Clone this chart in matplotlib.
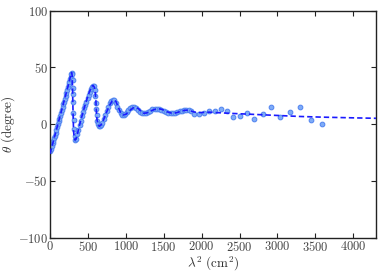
import matplotlib
matplotlib.use("Agg")
import matplotlib.pyplot as plt
from matplotlib.ticker import FuncFormatter

plt.rcParams['mathtext.fontset'] = 'cm'
plt.rcParams['font.family'] = 'serif'

# model curve (lambda^2 in cm^2, angle in degrees)
line_l2 = [0, 40, 80, 120, 160, 200, 240, 262, 275, 285, 292, 297, 302, 307, 312,
           320, 332, 345, 360, 400, 450, 500, 535, 558, 571, 585, 597, 605, 612, 620,
           635, 650, 665, 690, 730, 780, 820, 845, 870, 900, 930, 965, 1000, 1050,
           1100, 1130, 1170, 1210, 1240, 1280, 1340, 1400, 1430, 1480, 1540, 1600,
           1630, 1680, 1740, 1800, 1850, 1900, 1950, 2000, 2100, 2200, 2400, 2700,
           3000, 3300, 3600, 4000, 4300]
line_theta = [-26, -16, -6, 4, 14, 24, 34, 40, 44, 45.5, 43, 32, 16, 2, -7,
              -12, -14, -13, -9, 2, 14, 25, 31, 33.8, 34, 32.5, 28, 21, 11, 4,
              -0.5, -1.8, -1.2, 1, 8, 16, 20.5, 21.3, 20, 15, 10.5, 8.2, 8.6, 12,
              14.5, 15, 13.5, 10.5, 9.6, 10, 12, 13.5, 13.7, 13, 11, 9.8,
              9.6, 10.3, 11.8, 12.4, 11.8, 10.8, 10.2, 10.3, 10.6, 10.2, 9.5, 8.6,
              7.7, 6.8, 6.2, 5.6, 5.2]

# observed data points
obs_l2 = [5, 15, 25, 35, 45, 55, 65, 75, 85, 95, 105, 115, 125, 135, 145, 155,
          165, 175, 185, 195, 205, 215, 225, 235, 245, 255, 265, 272, 280, 288,
          294, 297, 300, 302, 305, 308, 312, 318, 326, 335, 345, 360, 375, 390,
          405, 420, 435, 450, 465, 480, 495, 510, 525, 540, 555, 568, 580, 592,
          600, 606, 610, 614, 620, 630, 645, 660, 675, 690, 710, 730, 750, 770,
          790, 810, 830, 850, 870, 890, 910, 930, 950, 970, 990, 1010, 1035,
          1060, 1085, 1110, 1135, 1160, 1185, 1210, 1235, 1260, 1290, 1320, 1350,
          1380, 1410, 1440, 1470, 1500, 1530, 1560, 1590, 1620, 1650, 1680, 1710,
          1740, 1770, 1800, 1830,
          1860, 1900, 1966, 2032, 2098, 2177, 2252, 2331, 2410, 2507, 2603, 2695,
          2806, 2915, 3034, 3162, 3298, 3439, 3592]
obs_theta = [-24, -22, -19.5, -17, -14.5, -12, -10, -7.5, -5, -2.5, 0, 2.5, 5,
             7.5, 10, 12.5, 15, 17.5, 20, 22.5, 25, 27.5, 30, 32.5, 35, 37.5, 40,
             42, 44, 45, 44, 39, 32, 27, 20, 10, 4, -4, -10, -13.5, -13, -9, -5,
             -1, 3, 7, 11, 14, 17, 20, 23, 26, 28.5, 31, 33, 34, 33.5, 30, 25, 19,
             13, 8, 3, 0, -1.5, -1.3, -0.5, 1, 4.5, 8, 12, 15.5, 18.5, 20.5, 21.3,
             21, 19, 15.5, 12.5, 10, 8.5, 8.2, 8.8, 10.5, 12.5, 14, 15, 15, 14,
             12.5, 11, 10, 9.7, 10, 11, 12, 13, 13.6, 13.7, 13.2, 12.4, 11.5, 10.6,
             10, 9.7, 9.7, 10, 10.5, 11.2, 11.8, 12.3, 12.4, 12.1,
             11.9, 9.0, 8.7, 9.6, 11.6, 11.9, 13.4, 11.9, 6.6, 7.5, 9.9, 4.8,
             9.3, 14.9, 6.3, 11.0, 15.4, 4.0, -0.1]

xticks = [0, 500, 1000, 1500, 2000, 2500, 3000, 3500, 4000]
yticks = [-100, -50, 0, 50, 100]

fig = plt.figure(figsize=(3.82, 2.73), dpi=100)
ax = fig.add_axes([0.1309, 0.1293, 0.8534, 0.8315])

ax.plot(obs_l2, obs_theta, 'o', ms=3.4, mfc='#7eacf7', mec='#4f82f0',
        mew=0.7, zorder=2)
ax.plot(line_l2, line_theta, '--', color='#1a1aff', lw=1.2,
        dashes=(3.2, 1.8), zorder=3)

ax.set_xlim(0, 4300)
ax.set_ylim(-100, 100)
ax.set_xticks(xticks)
ax.set_yticks(yticks)
fmt = FuncFormatter(lambda v, p: r'$%g$' % v)
ax.xaxis.set_major_formatter(fmt)
ax.yaxis.set_major_formatter(fmt)
ax.tick_params(direction='in', length=3.5, width=0.8, top=True, right=True,
               labelsize=9, pad=1.5, colors='#222222', labelcolor='#444444')
for s in ax.spines.values():
    s.set_linewidth(1.0)
    s.set_color('#222222')

ax.set_xlabel(r'$\lambda^2\ (\mathrm{cm}^2)$', fontsize=9.5, labelpad=1, color='#333333')
ax.set_ylabel(r'$\theta\ (\mathrm{degree})$', fontsize=9.5, color='#333333')
ax.yaxis.set_label_coords(-0.10, 0.5)

fig.savefig('out.png', dpi=100)
